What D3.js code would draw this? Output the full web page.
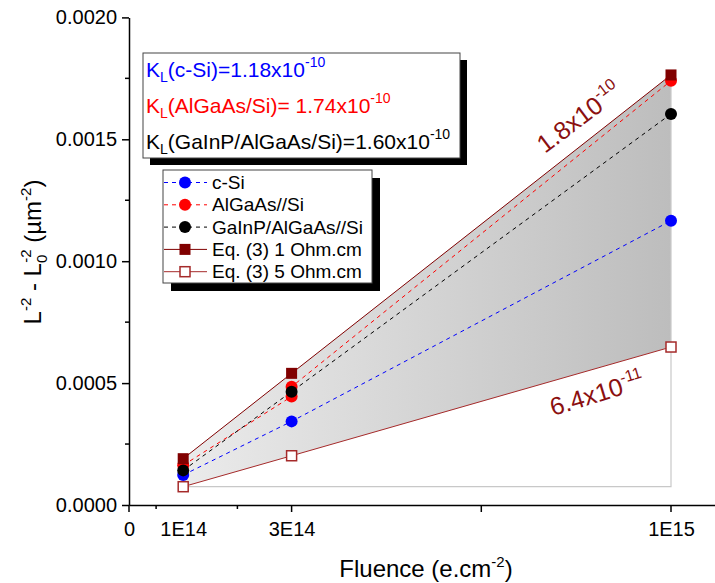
<!DOCTYPE html>
<html><head><meta charset="utf-8">
<script src="https://cdn.jsdelivr.net/npm/d3@7"></script>
<style>body{margin:0;background:#fff}</style>
</head><body>
<svg id="c" width="715" height="583"></svg>
<script>
// ---- data ----
const fluence = [1e14, 3e14, 1e15];
const cSi = [0.000123, 0.000343, 0.001166];
const algaasFluence = [1e14, 3e14, 3e14, 1e15];
const algaas = [0.000163, 0.000445, 0.000485, 0.00174];
const gainp = [0.000142, 0.000465, 0.001604];
const eq1 = [0.00019, 0.00054, 0.001764];
const eq5 = [0.000075, 0.000202, 0.000648];
const xTickValues = [0, 1e14, 3e14, 1e15];
const xTickLabels = ["0", "1E14", "3E14", "1E15"];
const xMajorTicks = [0, 3e14, 6.5e14, 1e15];
const xMinorTicks = [0.5e14, 2e14];
const yTickValues = [0, 0.0005, 0.001, 0.0015, 0.002];
const yTickLabels = ["0.0000", "0.0005", "0.0010", "0.0015", "0.0020"];
const yMinorTicks = [0.00025, 0.00075, 0.00125, 0.00175];
const legendNames = ["c-Si", "AlGaAs//Si", "GaInP/AlGaAs//Si", "Eq. (3) 1 Ohm.cm", "Eq. (3) 5 Ohm.cm"];
const kLabels = [["c-Si)=1.18x10", "-10"], ["AlGaAs/Si)= 1.74x10", "-10"], ["GaInP/AlGaAs/Si)=1.60x10", "-10"]];
const slopeLabels = [["1.8x10", "-10"], ["6.4x10", "-11"]];

// ---- setup ----
const FONT = "'Liberation Sans', Arial, sans-serif";
const svg = d3.select("#c").style("font-family", FONT);
const x = d3.scaleLinear().domain([0, 1.1e15]).range([129, 725.2]);
const y = d3.scaleLinear().domain([0, 0.002]).range([505, 17.4]);
const C = {blue: "#0000ff", red: "#ff0000", black: "#000000", eq1: "#800000", eq5: "#a52a2a"};

// gradient
const defs = svg.append("defs");
const grad = defs.append("linearGradient").attr("id", "g").attr("x1", "0").attr("x2", "1").attr("y1", "0").attr("y2", "0");
grad.append("stop").attr("offset", "0").attr("stop-color", "#ebebeb");
grad.append("stop").attr("offset", "1").attr("stop-color", "#bdbdbd");

// fill between eq1 and eq5
const upper = fluence.map((f, i) => [x(f), y(eq1[i])]);
const lower = fluence.map((f, i) => [x(f), y(eq5[i])]).reverse();
svg.append("path").attr("d", "M" + upper.concat(lower).map(p => p.join(",")).join("L") + "Z")
  .attr("fill", "url(#g)");

// light gray frame lines
svg.append("path")
  .attr("d", `M${x(fluence[0])},${y(eq5[0])}L${x(fluence[2])},${y(eq5[0])}L${x(fluence[2])},${y(eq1[2])}`)
  .attr("fill", "none").attr("stroke", "#c8c8c8").attr("stroke-width", 1.2);

const line = d3.line().x(d => x(d[0])).y(d => y(d[1]));
function drawLine(xs, vs, color, dash) {
  svg.append("path").datum(xs.map((f, i) => [f, vs[i]])).attr("d", line)
    .attr("fill", "none").attr("stroke", color).attr("stroke-width", 1)
    .attr("stroke-dasharray", dash || null);
}
drawLine(fluence, eq1, C.eq1);
drawLine(fluence, eq5, C.eq5);
drawLine(fluence, cSi, C.blue, "4,4");
drawLine(algaasFluence, algaas, C.red, "4,4");
drawLine(fluence, gainp, C.black, "4,4");

function circles(xs, vs, color) {
  svg.append("g").selectAll("circle").data(xs.map((f, i) => [f, vs[i]])).join("circle")
    .attr("cx", d => x(d[0])).attr("cy", d => y(d[1])).attr("r", 6).attr("fill", color);
}
circles(fluence, cSi, C.blue);
circles(algaasFluence, algaas, C.red);
circles(fluence, gainp, C.black);
svg.append("g").selectAll("rect").data(fluence.map((f, i) => [f, eq1[i]])).join("rect")
  .attr("x", d => x(d[0]) - 5.5).attr("y", d => y(d[1]) - 5.5).attr("width", 11).attr("height", 11).attr("fill", C.eq1);
svg.append("g").selectAll("rect").data(fluence.map((f, i) => [f, eq5[i]])).join("rect")
  .attr("x", d => x(d[0]) - 5).attr("y", d => y(d[1]) - 5).attr("width", 10).attr("height", 10)
  .attr("fill", "#fff").attr("stroke", C.eq5).attr("stroke-width", 1.5);

// ---- axes ----
const xAxis = svg.append("g").attr("transform", `translate(0,${y(0)})`)
  .call(d3.axisBottom(x).tickValues(xTickValues).tickFormat((d, i) => xTickLabels[i]).tickSize(0).tickSizeOuter(0).tickPadding(17));
xAxis.select(".domain").attr("stroke-width", 1.5);
xAxis.selectAll("text").attr("font-size", 20).attr("font-family", FONT);
svg.append("g").selectAll("line").data(xMajorTicks).join("line")
  .attr("x1", d => x(d)).attr("x2", d => x(d)).attr("y1", y(0)).attr("y2", y(0) + 7)
  .attr("stroke", "#000").attr("stroke-width", 1.5);
svg.append("g").selectAll("line").data(xMinorTicks).join("line")
  .attr("x1", d => x(d)).attr("x2", d => x(d)).attr("y1", y(0)).attr("y2", y(0) + 4)
  .attr("stroke", "#000").attr("stroke-width", 1.5);

const yAxis = svg.append("g").attr("transform", `translate(${x(0)},0)`)
  .call(d3.axisLeft(y).tickValues(yTickValues).tickFormat((d, i) => yTickLabels[i]).tickSize(7).tickSizeOuter(0).tickPadding(5));
yAxis.select(".domain").attr("stroke-width", 1.5);
yAxis.selectAll(".tick line").attr("stroke-width", 1.5);
yAxis.selectAll("text").attr("font-size", 20).attr("font-family", FONT);
svg.append("g").selectAll("line").data(yMinorTicks).join("line")
  .attr("x1", x(0)).attr("x2", x(0) - 4).attr("y1", d => y(d)).attr("y2", d => y(d))
  .attr("stroke", "#000").attr("stroke-width", 1.5);

// axis titles
const xt = svg.append("text").attr("x", 426).attr("y", 577).attr("text-anchor", "middle").attr("font-size", 24);
xt.append("tspan").text("Fluence (e.cm");
xt.append("tspan").attr("dy", -10).attr("font-size", 15).text("-2");
xt.append("tspan").attr("dy", 10).text(")");

const yt = svg.append("text").attr("transform", "translate(41,252) rotate(-90)").attr("text-anchor", "middle").attr("font-size", 24);
yt.append("tspan").text("L");
yt.append("tspan").attr("dy", -10).attr("font-size", 15).text("-2");
yt.append("tspan").attr("dy", 10).text(" - L");
yt.append("tspan").attr("dy", 6).attr("font-size", 15).text("0");
yt.append("tspan").attr("dy", -16).attr("dx", -8).attr("font-size", 15).text("-2");
yt.append("tspan").attr("dy", 10).text(" (µm");
yt.append("tspan").attr("dy", -10).attr("font-size", 15).text("-2");
yt.append("tspan").attr("dy", 10).text(")");

// ---- K_L box ----
svg.append("rect").attr("x", 150).attr("y", 60).attr("width", 317).attr("height", 105).attr("fill", "#000");
svg.append("rect").attr("x", 143).attr("y", 53).attr("width", 317).attr("height", 105).attr("fill", "#fff").attr("stroke", "#444").attr("stroke-width", 1);
const kColors = [C.blue, C.red, C.black];
kLabels.forEach((k, i) => {
  const t = svg.append("text").attr("x", 146).attr("y", 77 + i * 36).attr("font-size", 21).attr("fill", kColors[i]);
  t.append("tspan").text("K");
  t.append("tspan").attr("dy", 5).attr("font-size", 14).text("L");
  t.append("tspan").attr("dy", -5).text("(" + k[0]);
  t.append("tspan").attr("dy", -10).attr("font-size", 14).text(k[1]);
});

// ---- legend ----
svg.append("rect").attr("x", 171).attr("y", 178).attr("width", 209).attr("height", 113).attr("fill", "#000");
svg.append("rect").attr("x", 163).attr("y", 170).attr("width", 209).attr("height", 113).attr("fill", "#fff").attr("stroke", "#444").attr("stroke-width", 1);
const legColors = [C.blue, C.red, C.black, C.eq1, C.eq5];
legendNames.forEach((name, i) => {
  const cy = 182.5 + i * 22.3;
  svg.append("line").attr("x1", 164).attr("x2", 207).attr("y1", cy).attr("y2", cy)
    .attr("stroke", legColors[i]).attr("stroke-width", 1).attr("stroke-dasharray", i < 3 ? "4,4" : null);
  if (i < 3) svg.append("circle").attr("cx", 185).attr("cy", cy).attr("r", 6).attr("fill", legColors[i]);
  else if (i === 3) svg.append("rect").attr("x", 179.5).attr("y", cy - 5.5).attr("width", 11).attr("height", 11).attr("fill", C.eq1);
  else svg.append("rect").attr("x", 180).attr("y", cy - 5).attr("width", 10).attr("height", 10).attr("fill", "#fff").attr("stroke", C.eq5).attr("stroke-width", 1.5);
  svg.append("text").attr("x", 212).attr("y", cy + 6.5).attr("font-size", 19).text(name);
});

// ---- slope annotations ----
const slopePos = [[545, 154, -37], [553, 416, -17]];
slopeLabels.forEach((s, i) => {
  const t = svg.append("text").attr("transform", `translate(${slopePos[i][0]},${slopePos[i][1]}) rotate(${slopePos[i][2]})`)
    .attr("font-size", 25).attr("fill", "#8b1010");
  t.append("tspan").text(s[0]);
  t.append("tspan").attr("dy", -11).attr("font-size", 16).text(s[1]);
});
</script>
</body></html>
